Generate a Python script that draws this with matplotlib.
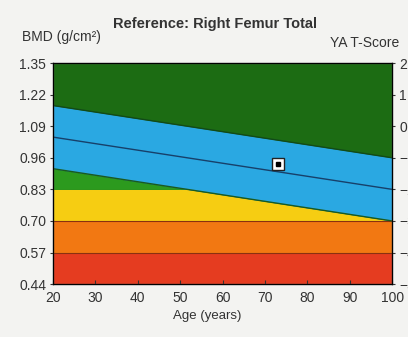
import numpy as np
import matplotlib.pyplot as plt

plt.rcParams['font.family'] = ['Liberation Sans', 'DejaVu Sans']

# reference curve (young adult mean by age) and the zone limits, g/cm2
ages = [20, 100]
ref_mean = [1.045, 0.83]
sd = 0.13
zone_limits = [0.44, 0.57, 0.70, 0.83]

# patient result
pt_age = [73]
pt_bmd = [0.935]

bmd_ticks = [1.35, 1.22, 1.09, 0.96, 0.83, 0.70, 0.57, 0.44]
age_ticks = [20, 30, 40, 50, 60, 70, 80, 90, 100]
t_ticks = [2, 1, 0, -1, -2, -3, -4, -5]

bg = '#f3f3f1'
txt = '#333333'
fig = plt.figure(figsize=(4.08, 3.37), dpi=100, facecolor=bg)
ax = fig.add_axes([0.130, 0.157, 0.831, 0.656])

# fine grid so the zone edges cross cleanly
x = np.linspace(ages[0], ages[-1], 200)
mid = np.interp(x, ages, ref_mean)
top = mid + sd
bot = mid - sd

ax.set_facecolor('#1c6c13')
ax.fill_between(x, zone_limits[0], zone_limits[1], color='#e53c20', lw=0)
ax.fill_between(x, zone_limits[1], zone_limits[2], color='#f27812', lw=0)
ax.fill_between(x, zone_limits[2], np.minimum(zone_limits[3], bot), color='#f6cd12', lw=0)
ax.fill_between(x, zone_limits[3], np.maximum(zone_limits[3], bot), color='#2c9a1e', lw=0)
ax.fill_between(x, bot, top, color='#2aa8e2', lw=0)

# zone edges
for v in zone_limits[1:3]:
    ax.axhline(v, color='#8a3010', lw=0.8)
ax.plot(x, top, color='#124a18', lw=1.0)
ax.plot(x, bot, color='#1a5a20', lw=1.0)
ax.plot(x, mid, color='#17406a', lw=1.0)

ax.plot(pt_age, pt_bmd, marker='s', ms=8, mfc='white', mec='#222222', mew=1.0, ls='none')
ax.plot(pt_age, pt_bmd, marker='s', ms=3, mfc='black', mec='black', ls='none')

ax.set_xlim(20, 100)
ax.set_ylim(0.44, 1.35)
ax.set_xticks(age_ticks)
ax.set_yticks(bmd_ticks)
ax.set_yticklabels(['%.2f' % v for v in bmd_ticks])
ax.tick_params(labelsize=10, colors=txt, length=3, direction='in', pad=5)
ax.tick_params(axis='y', direction='out', length=2, pad=3)
for s in ax.spines.values():
    s.set_color('#444444')
    s.set_linewidth(1.0)

ax2 = ax.twinx()
ax2.set_ylim((0.44 - 1.09) / 0.13, (1.35 - 1.09) / 0.13)
ax2.set_yticks(t_ticks)
ax2.tick_params(labelsize=10, colors=txt, length=2, pad=3)

ax.set_xlabel('Age (years)', fontsize=9.5, color=txt, labelpad=4)
ax.xaxis.set_label_coords(0.455, -0.115)
fig.text(0.528, 0.929, 'Reference: Right Femur Total', ha='center', va='center',
         fontsize=10.5, fontweight='bold', color=txt)
fig.text(0.055, 0.89, 'BMD (g/cm²)', ha='left', va='center', fontsize=10, color=txt)
fig.text(0.808, 0.872, 'YA T-Score', ha='left', va='center', fontsize=10, color=txt)

plt.savefig('out.png', dpi=100, facecolor=bg)
